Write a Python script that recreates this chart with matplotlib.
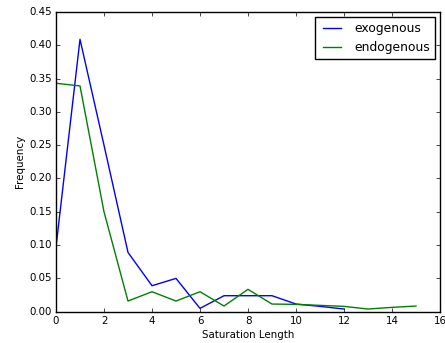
import matplotlib
matplotlib.use("Agg")
import matplotlib.pyplot as plt

lengths_exo = [0, 1, 2, 3, 4, 5, 6, 7, 8, 9, 10, 11, 12]
freq_exo = [0.097, 0.409, 0.250, 0.089, 0.039, 0.050, 0.005, 0.024, 0.024,
            0.024, 0.0115, 0.008, 0.004]

lengths_endo = [0, 1, 2, 3, 4, 5, 6, 7, 8, 9, 10, 11, 12, 13, 14, 15]
freq_endo = [0.343, 0.339, 0.150, 0.016, 0.030, 0.016, 0.030, 0.0085, 0.0336,
             0.0115, 0.011, 0.0095, 0.008, 0.004, 0.0065, 0.0085]

plt.style.use("classic")
plt.rcParams["font.size"] = 7.4

fig = plt.figure(figsize=(4.45, 3.43), dpi=100)
ax = fig.add_axes([56 / 445, 31.3 / 343, 384 / 445, 299.7 / 343])

ax.plot(lengths_exo, freq_exo, color="blue", linewidth=1.0, label="exogenous")
ax.plot(lengths_endo, freq_endo, color="green", linewidth=1.0, label="endogenous")

ax.set_xlim(0, 16)
ax.set_ylim(0, 0.45)
ax.set_xticks(range(0, 17, 2))
ax.set_yticks([i * 0.05 for i in range(10)])
ax.tick_params(labelsize=7.4, length=3, pad=2.8)
ax.set_xlabel("Saturation Length", fontsize=7.4, labelpad=3.5)
ax.set_ylabel("Frequency", fontsize=7.4, labelpad=3.5)
ax.legend(loc="upper right", fontsize=8.9, borderaxespad=0.4)

fig.savefig("out.png", dpi=100)
